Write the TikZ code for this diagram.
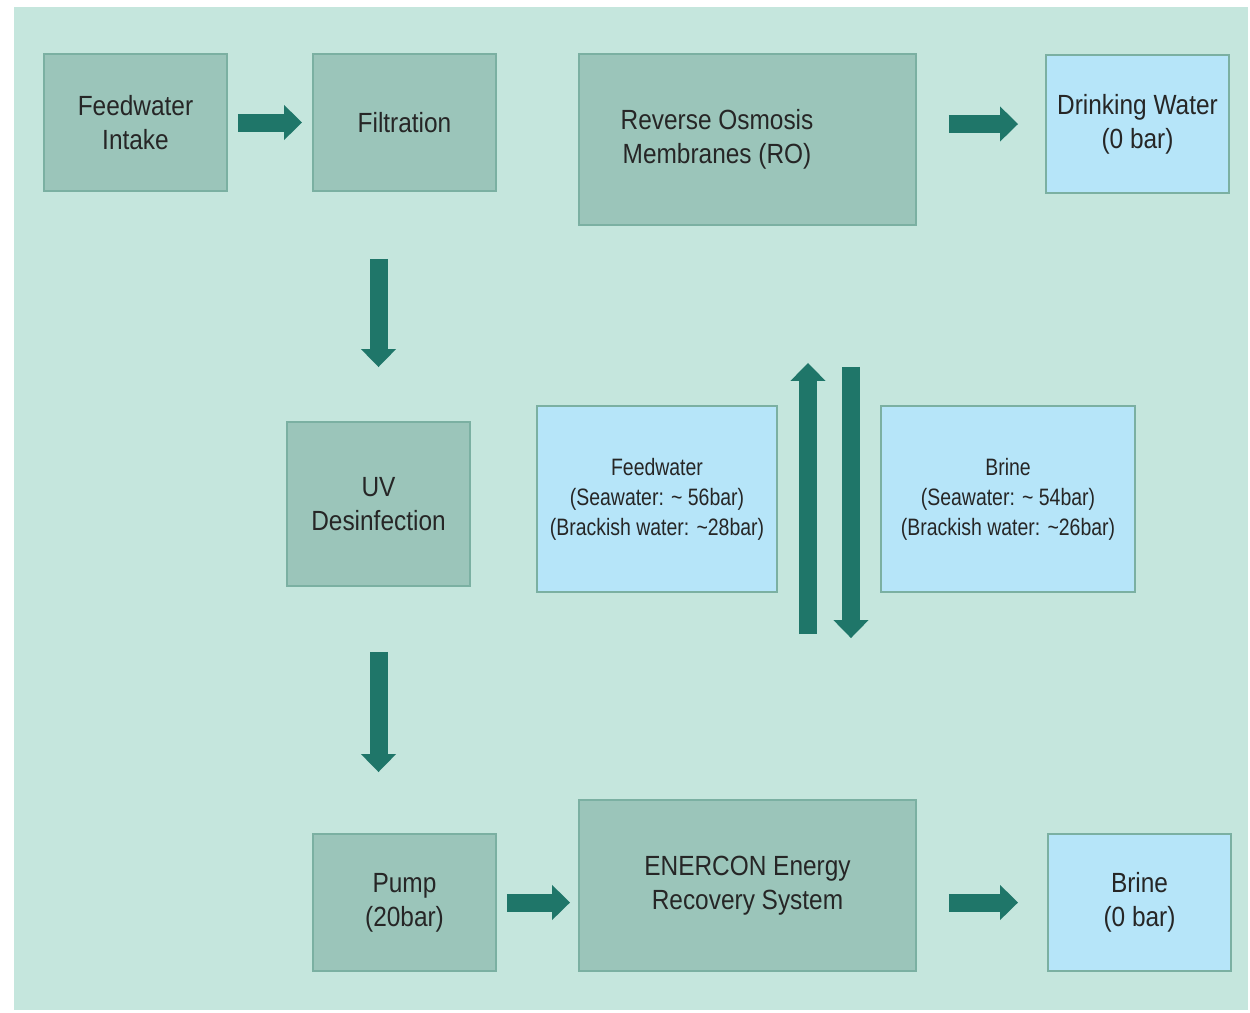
\documentclass[tikz,border=0pt]{standalone}
\usepackage{fontspec}
\setmainfont{Liberation Sans}[FakeStretch=0.88]
\newfontfamily\narrowfont{Liberation Sans}[FakeStretch=0.82]
\usetikzlibrary{arrows.meta}
\definecolor{bgwater}{HTML}{C5E6DD}
\definecolor{stagefill}{HTML}{9BC5BA}
\definecolor{stageline}{HTML}{7BB0A2}
\definecolor{pressfill}{HTML}{B6E5F9}
\definecolor{flowgreen}{HTML}{1F7669}
\definecolor{txtdark}{HTML}{262626}

\begin{document}
\begin{tikzpicture}
[
x=0.02cm, y=-0.02cm,
stagetext/.style={align=center, text=txtdark, font=\fontsize{15.8}{19.3}\selectfont},
stage/.style 2 args={draw=stageline, fill=stagefill, line width=1.1pt, inner sep=0pt, stagetext, minimum width=#1, minimum height=#2},
press/.style 2 args={stage={#1}{#2}, fill=pressfill},
note/.style={font=\narrowfont\fontsize{13.5}{17}\selectfont},
flow/.style={draw=flowgreen, line width=0.36cm, -{Triangle[width=0.68cm,length=0.36cm]}},
]

%Background and margins
\useasboundingbox (0,0) rectangle (1250,1012);
\fill[bgwater] (14,7) rectangle (1248,1010);

%Place the nodes
\node[stage={3.66cm}{2.74cm}] (intake) at (135.5,122.5) {Feedwater\\Intake};
\node[stage={3.66cm}{2.74cm}] (filt) at (404.5,122.5) {Filtration};
\node[stage={6.74cm}{3.42cm}, label={[stagetext, xshift=-0.61cm]center:Reverse Osmosis\\Membranes (RO)}] (ro) at (747.5,139.5) {};
\node[press={3.66cm}{2.76cm}] (drink) at (1137.5,124) {Drinking Water\\(0 bar)};
\node[stage={3.66cm}{3.28cm}] (uv) at (378.5,504) {UV\\Desinfection};
\node[press={4.8cm}{3.72cm}, note] (fw) at (657,499) {Feedwater\\(Seawater: \textasciitilde{} 56bar)\\(Brackish water: \textasciitilde28bar)};
\node[press={5.08cm}{3.72cm}, note] (br) at (1008,499) {Brine\\(Seawater: \textasciitilde{} 54bar)\\(Brackish water: \textasciitilde26bar)};
\node[stage={3.66cm}{2.74cm}] (pump) at (404.5,902.5) {Pump\\(20bar)};
\node[stage={6.74cm}{3.42cm}] (ers) at (747.5,885.5) {ENERCON Energy\\Recovery System};
\node[press={3.66cm}{2.74cm}] (brine) at (1139.5,902.5) {Brine\\(0 bar)};

%Draw the flows
\draw[flow, shorten <=0.2cm, shorten >=0.2cm] (intake) -- (filt);
\draw[flow, shorten <=0.64cm, shorten >=0.54cm] (ro.east |- drink.west) -- (drink.west);
\draw[flow, shorten <=1.34cm, shorten >=1.08cm] (filt.south -| uv.north) -- (uv.north);
\draw[flow, shorten <=1.3cm, shorten >=1.22cm] (uv.south) -- (uv.south |- pump.north);
\draw[flow, shorten <=0.2cm, shorten >=0.16cm] (pump.east) -- (pump.east -| ers.west);
\draw[flow, shorten <=0.64cm, shorten >=0.58cm] (ers.east |- brine.west) -- (brine.west);
\draw[flow, shorten <=3.3cm, shorten >=2.74cm] ([xshift=1.21cm]ers.north) -- ([xshift=1.21cm]ers.north |- ro.south);
\draw[flow, shorten <=2.82cm, shorten >=3.22cm] ([xshift=2.07cm]ro.south) -- ([xshift=2.07cm]ro.south |- ers.north);
\end{tikzpicture}
\end{document}
